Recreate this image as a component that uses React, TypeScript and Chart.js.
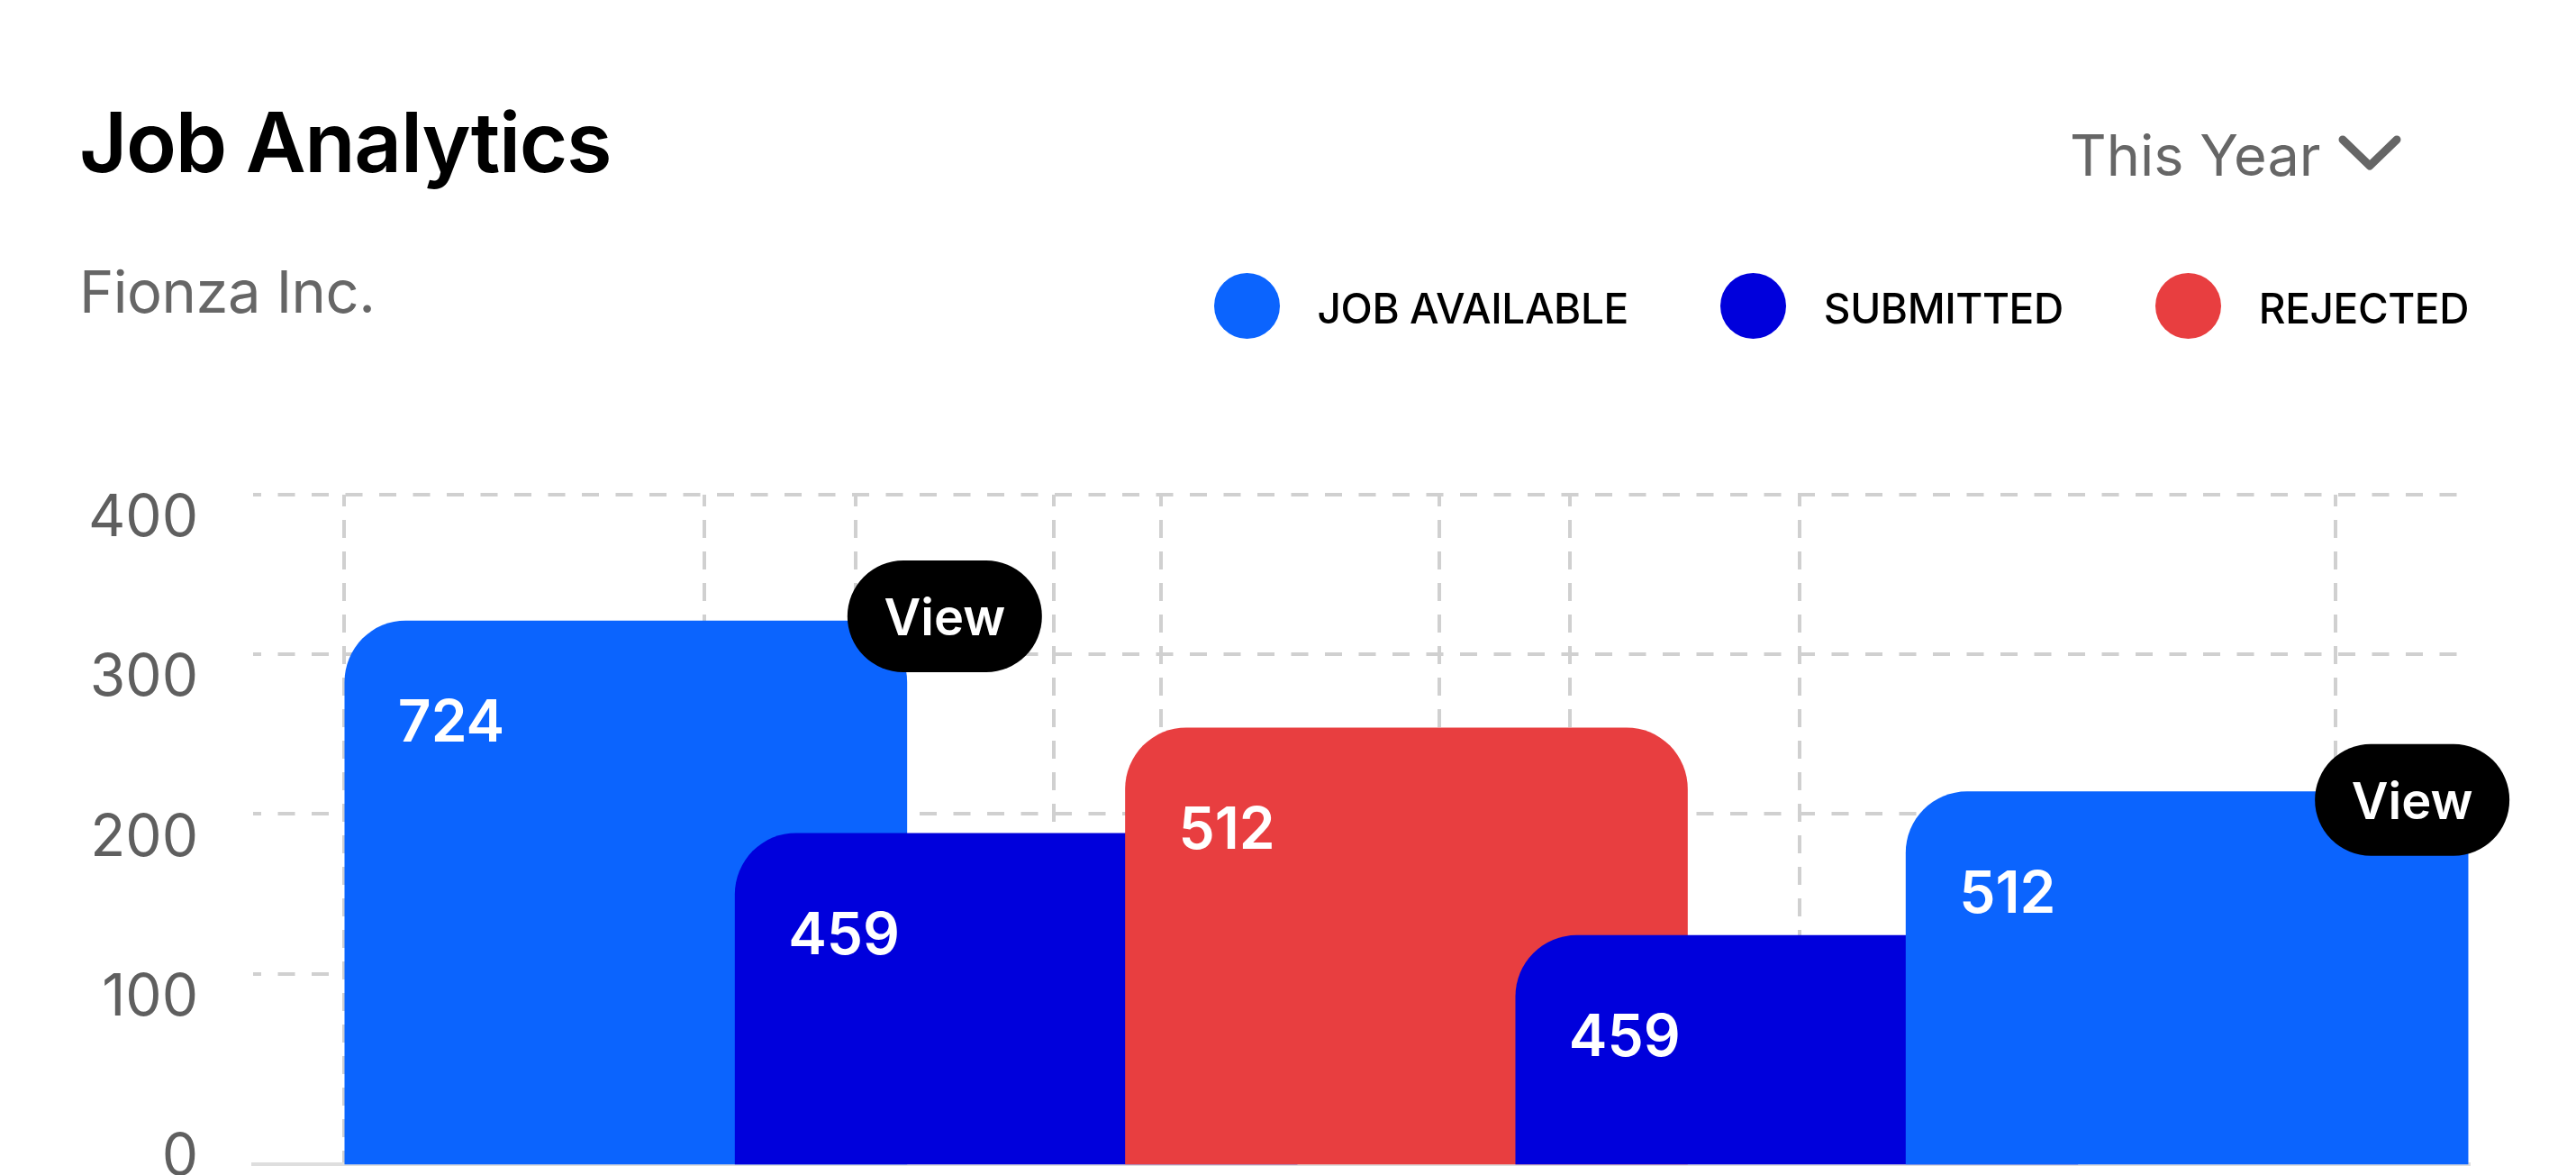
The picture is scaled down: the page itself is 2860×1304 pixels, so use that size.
import { useEffect, useRef } from "react";
import { Chart, registerables } from "chart.js";

Chart.register(...registerables);

// Bars, left to right
const categories = ["Job Available", "Submitted", "Rejected", "Submitted", "Job Available"];
const barSeries = [0, 1, 2, 1, 0];
const barValues = [321, 188, 254, 124, 214];
const barLabels = ["724", "459", "512", "459", "512"];
const viewBadges = [true, false, false, false, true];

// Legend
const seriesNames = ["JOB AVAILABLE", "SUBMITTED", "REJECTED"];
const seriesColors = ["#0b64fe", "#0000dc", "#e83e40"];

// Axes
const yTicks = [0, 100, 200, 300, 400];
const columnGuides = [-0.722, 0.201, 0.589, 1.097, 1.371, 2.084, 2.419, 3.008, 4.381];

const Y_MIN = -19.2;
const Y_MAX = 400;
const X_MIN = -0.955;
const X_MAX = 4.722;

const FONT = "Inter, 'Noto Sans', sans-serif";
const GRID = "#d0d0d0";

// small nudges for the "View" pills, relative to the bar's top-right corner
const badgeNudge: Record<number, { dx: number; dy: number }> = {
  0: { dx: 42, dy: -5 },
  4: { dx: -62, dy: 9 },
};

const barAnnotations = {
  id: "barAnnotations",
  afterDatasetsDraw(chart: Chart) {
    const { ctx } = chart;
    const meta = chart.getDatasetMeta(0);
    ctx.save();

    // value labels inside each bar
    ctx.fillStyle = "#ffffff";
    ctx.font = `600 64px ${FONT}`;
    ctx.textAlign = "left";
    ctx.textBaseline = "alphabetic";
    meta.data.forEach((el: any, i: number) => {
      const { x, y, width } = el.getProps(["x", "y", "width"], true);
      ctx.fillText(barLabels[i], x - width / 2 + 59, y + 134);
    });

    // "View" pills
    meta.data.forEach((el: any, i: number) => {
      if (!viewBadges[i]) return;
      const { x, y, width } = el.getProps(["x", "y", "width"], true);
      const nudge = badgeNudge[i] || { dx: 0, dy: 0 };
      const cx = x + width / 2 + nudge.dx;
      const cy = y + nudge.dy;
      const w = 216;
      const h = 124;
      ctx.fillStyle = "#000000";
      ctx.beginPath();
      ctx.roundRect(cx - w / 2, cy - h / 2, w, h, h / 2);
      ctx.fill();
      ctx.fillStyle = "#ffffff";
      ctx.font = `600 56px ${FONT}`;
      ctx.textAlign = "center";
      ctx.fillText("View", cx, cy + 21);
    });

    ctx.restore();
  },
};

function JobAnalyticsChart() {
  const chartRef = useRef<HTMLCanvasElement>(null);
  const chartInstance = useRef<Chart | null>(null);

  useEffect(() => {
    if (!chartRef.current) return;
    if (chartInstance.current) chartInstance.current.destroy();

    const ctx = chartRef.current.getContext("2d");
    if (!ctx) return;

    chartInstance.current = new Chart(ctx, {
      type: "bar",
      data: {
        labels: categories,
        datasets: [
          {
            label: "Jobs",
            data: barValues.map((v, i) => ({ x: i, y: v })) as any,
            backgroundColor: barSeries.map((s) => seriesColors[s]),
            borderWidth: 0,
            borderRadius: 68,
            borderSkipped: "start",
            barThickness: 624,
            base: Y_MIN,
            clip: false as any,
          },
        ],
      },
      options: {
        responsive: true,
        maintainAspectRatio: false,
        animation: false,
        layout: {
          padding: { top: 549, right: 119, bottom: 0, left: 0 },
        },
        plugins: {
          legend: { display: false },
          tooltip: { enabled: false },
        },
        scales: {
          x: {
            type: "linear",
            min: X_MIN,
            max: X_MAX,
            offset: false,
            afterBuildTicks: (axis: any) => {
              axis.ticks = columnGuides.map((v) => ({ value: v }));
            },
            afterFit: (axis: any) => {
              axis.height = 12;
              axis.paddingLeft = 0;
              axis.paddingRight = 0;
            },
            ticks: { display: false },
            grid: { color: GRID, lineWidth: 4, drawTicks: false, offset: false },
            border: { display: true, color: "#dedede", width: 4, dash: [20, 15], dashOffset: 7 },
          },
          y: {
            min: Y_MIN,
            max: Y_MAX,
            afterBuildTicks: (axis: any) => {
              axis.ticks = yTicks.map((v) => ({ value: v }));
            },
            afterFit: (axis: any) => {
              axis.width = 281;
              axis.paddingTop = 0;
              axis.paddingBottom = 0;
            },
            ticks: {
              padding: 61,
              labelOffset: 27,
              color: "#5f5f5f",
              font: { family: FONT, size: 64, weight: 400 as any },
            },
            grid: {
              color: (c: any) => (c.tick && c.tick.value === 0 ? "rgba(0,0,0,0)" : GRID),
              lineWidth: 4,
              drawTicks: false,
            },
            border: { display: false, dash: [19, 18.5], dashOffset: 10 },
          },
        },
      },
      plugins: [barAnnotations],
    });

    return () => {
      if (chartInstance.current) {
        chartInstance.current.destroy();
        chartInstance.current = null;
      }
    };
  }, []);

  return <canvas ref={chartRef} />;
}

export default function App() {
  return (
    <div
      style={{
        position: "relative",
        width: 2860,
        height: 1304,
        overflow: "hidden",
        background: "#ffffff",
        fontFamily: FONT,
      }}
    >
      <style>{`body{margin:0;background:#fff;}`}</style>

      <div style={{ position: "absolute", inset: 0 }}>
        <JobAnalyticsChart />
      </div>

      <div
        style={{
          position: "absolute",
          left: 88,
          top: 112,
          fontSize: 92,
          lineHeight: "92px",
          fontWeight: 600,
          letterSpacing: -1.3,
          color: "#000",
          whiteSpace: "nowrap",
        }}
      >
        Job Analytics
      </div>

      <div
        style={{
          position: "absolute",
          left: 88,
          top: 291,
          fontSize: 65,
          lineHeight: "65px",
          fontWeight: 400,
          letterSpacing: -0.5,
          color: "#666",
          whiteSpace: "nowrap",
        }}
      >
        Fionza Inc.
      </div>

      <div
        style={{
          position: "absolute",
          left: 2298,
          top: 141,
          fontSize: 63,
          lineHeight: "63px",
          fontWeight: 400,
          color: "#666",
          whiteSpace: "nowrap",
        }}
      >
        This Year
      </div>
      <svg
        style={{ position: "absolute", left: 2594, top: 148 }}
        width={74}
        height={44}
        viewBox="0 0 74 44"
      >
        <polyline
          points="7,7 37,36 67,7"
          fill="none"
          stroke="#666"
          strokeWidth={9}
          strokeLinecap="round"
          strokeLinejoin="round"
        />
      </svg>

      <div
        style={{
          position: "absolute",
          right: 119,
          top: 303,
          height: 72,
          display: "flex",
          alignItems: "center",
          gap: 102,
        }}
      >
        {seriesNames.map((name, i) => (
          <div key={name} style={{ display: "flex", alignItems: "center" }}>
            <span
              style={{
                display: "inline-block",
                width: 73,
                height: 73,
                borderRadius: "50%",
                background: seriesColors[i],
                marginRight: 42,
              }}
            />
            <span
              style={{
                fontSize: 46,
                lineHeight: "46px",
                fontWeight: 500,
                letterSpacing: -0.4,
                color: "#000",
                whiteSpace: "nowrap",
                position: "relative",
                top: 3,
              }}
            >
              {name}
            </span>
          </div>
        ))}
      </div>
    </div>
  );
}
